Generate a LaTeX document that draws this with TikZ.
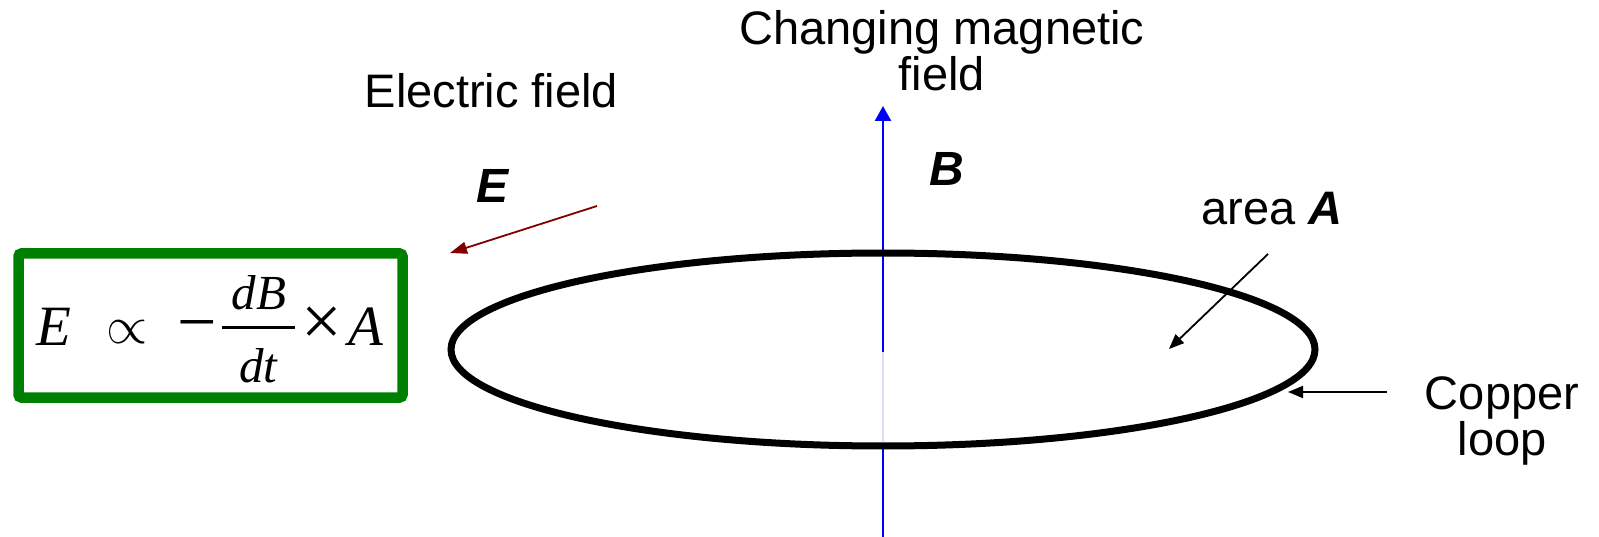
\documentclass[tikz,border=0pt]{standalone}
\usepackage{fontspec}
\setmainfont{Liberation Sans}
\newfontfamily\tnr{Liberation Serif}
\usetikzlibrary{arrows.meta}
\definecolor{boxgreen}{RGB}{0,128,0}
\definecolor{efield}{RGB}{128,0,0}
\definecolor{bblue}{RGB}{0,0,255}
\definecolor{bfaint}{RGB}{222,222,255}
\begin{document}
\begin{tikzpicture}[x=1pt,y=-1pt,
  lbl/.style={inner sep=0pt, font=\fontsize{47}{46}\selectfont},
  bi/.style={inner sep=0pt, font=\fontsize{48}{48}\selectfont\bfseries\itshape},
  fm/.style={inner sep=0pt, font=\tnr\fontsize{57}{60}\selectfont\itshape},
  fs/.style={inner sep=0pt, font=\tnr\fontsize{49}{50}\selectfont\itshape},
  ptr/.style={black, line width=1.8pt, -{Triangle[length=15pt,width=12pt]}},
]
\useasboundingbox (0,0) rectangle (1599,537);
% magnetic field axis
\coordinate (bbot) at (883,537);
\coordinate (bfade) at (883,446);
\coordinate (bsolid) at (883,352);
\coordinate (btip) at (883,106);
\draw[bblue, line width=2.4pt] (bbot) -- (bfade);
\draw[bfaint, line width=2.4pt] (bfade) -- (bsolid);
\draw[bblue, line width=2.4pt, -{Triangle[length=15pt,width=16pt]}] (bsolid) -- (btip);
% copper loop
\draw[line width=7pt] (883,349.5) ellipse [x radius=432pt, y radius=96.5pt];
% labels
\node[lbl, anchor=base] (ef) at (491.5,108) {Electric field};
\node[lbl, anchor=base, align=center] (cmf) at (942,91) {Changing magnetic\\field};
\node[bi, anchor=base] (eE) at (493,203) {E};
\node[bi, anchor=base] (bB) at (947,186) {B};
\node[lbl, anchor=base] (area) at (1272,225) {area \textbf{\textit{A}}};
\node[lbl, anchor=base, align=center] (cl) at (1502,455) {Copper\\loop};
% arrows
\coordinate (eS) at (597,206);
\coordinate (eT) at (450,253);
\draw[efield, line width=1.8pt, -{Triangle[length=17pt,width=12pt]}] (eS) -- (eT);
\coordinate (aS) at (1268,254);
\coordinate (aT) at (1169,349);
\draw[ptr] (aS) -- (aT);
\coordinate (cS) at (1387,392);
\coordinate (cT) at (1288,392);
\draw[ptr] (cS) -- (cT);
% formula box
\node[draw=boxgreen, line width=10.5pt, rounded corners=3pt, minimum width=384pt, minimum height=144pt, inner sep=0pt] (fbox) at (210.5,325.5) {};
\node[fm, anchor=base] (fE) at (54,345) {E};
\node[inner sep=0pt, scale=5.3, anchor=base] (fprop) at (127.5,344) {$\propto$};
\node[inner sep=0pt, font=\tnr\fontsize{70}{70}\selectfont, anchor=base] (fminus) at (197.5,345) {−};
\node[fs, anchor=base] (fdB) at (259,310) {dB};
\node[fs, anchor=base] (fdt) at (258.5,383) {dt};
\coordinate (barL) at (222,328);
\coordinate (barR) at (295,328);
\draw[line width=3pt] (barL) -- (barR);
\node[inner sep=0pt, font=\tnr\fontsize{72}{72}\selectfont, anchor=base] (ftimes) at (321.5,345) {×};
\node[fm, anchor=base] (fA) at (365.5,345) {A};
\end{tikzpicture}
\end{document}
